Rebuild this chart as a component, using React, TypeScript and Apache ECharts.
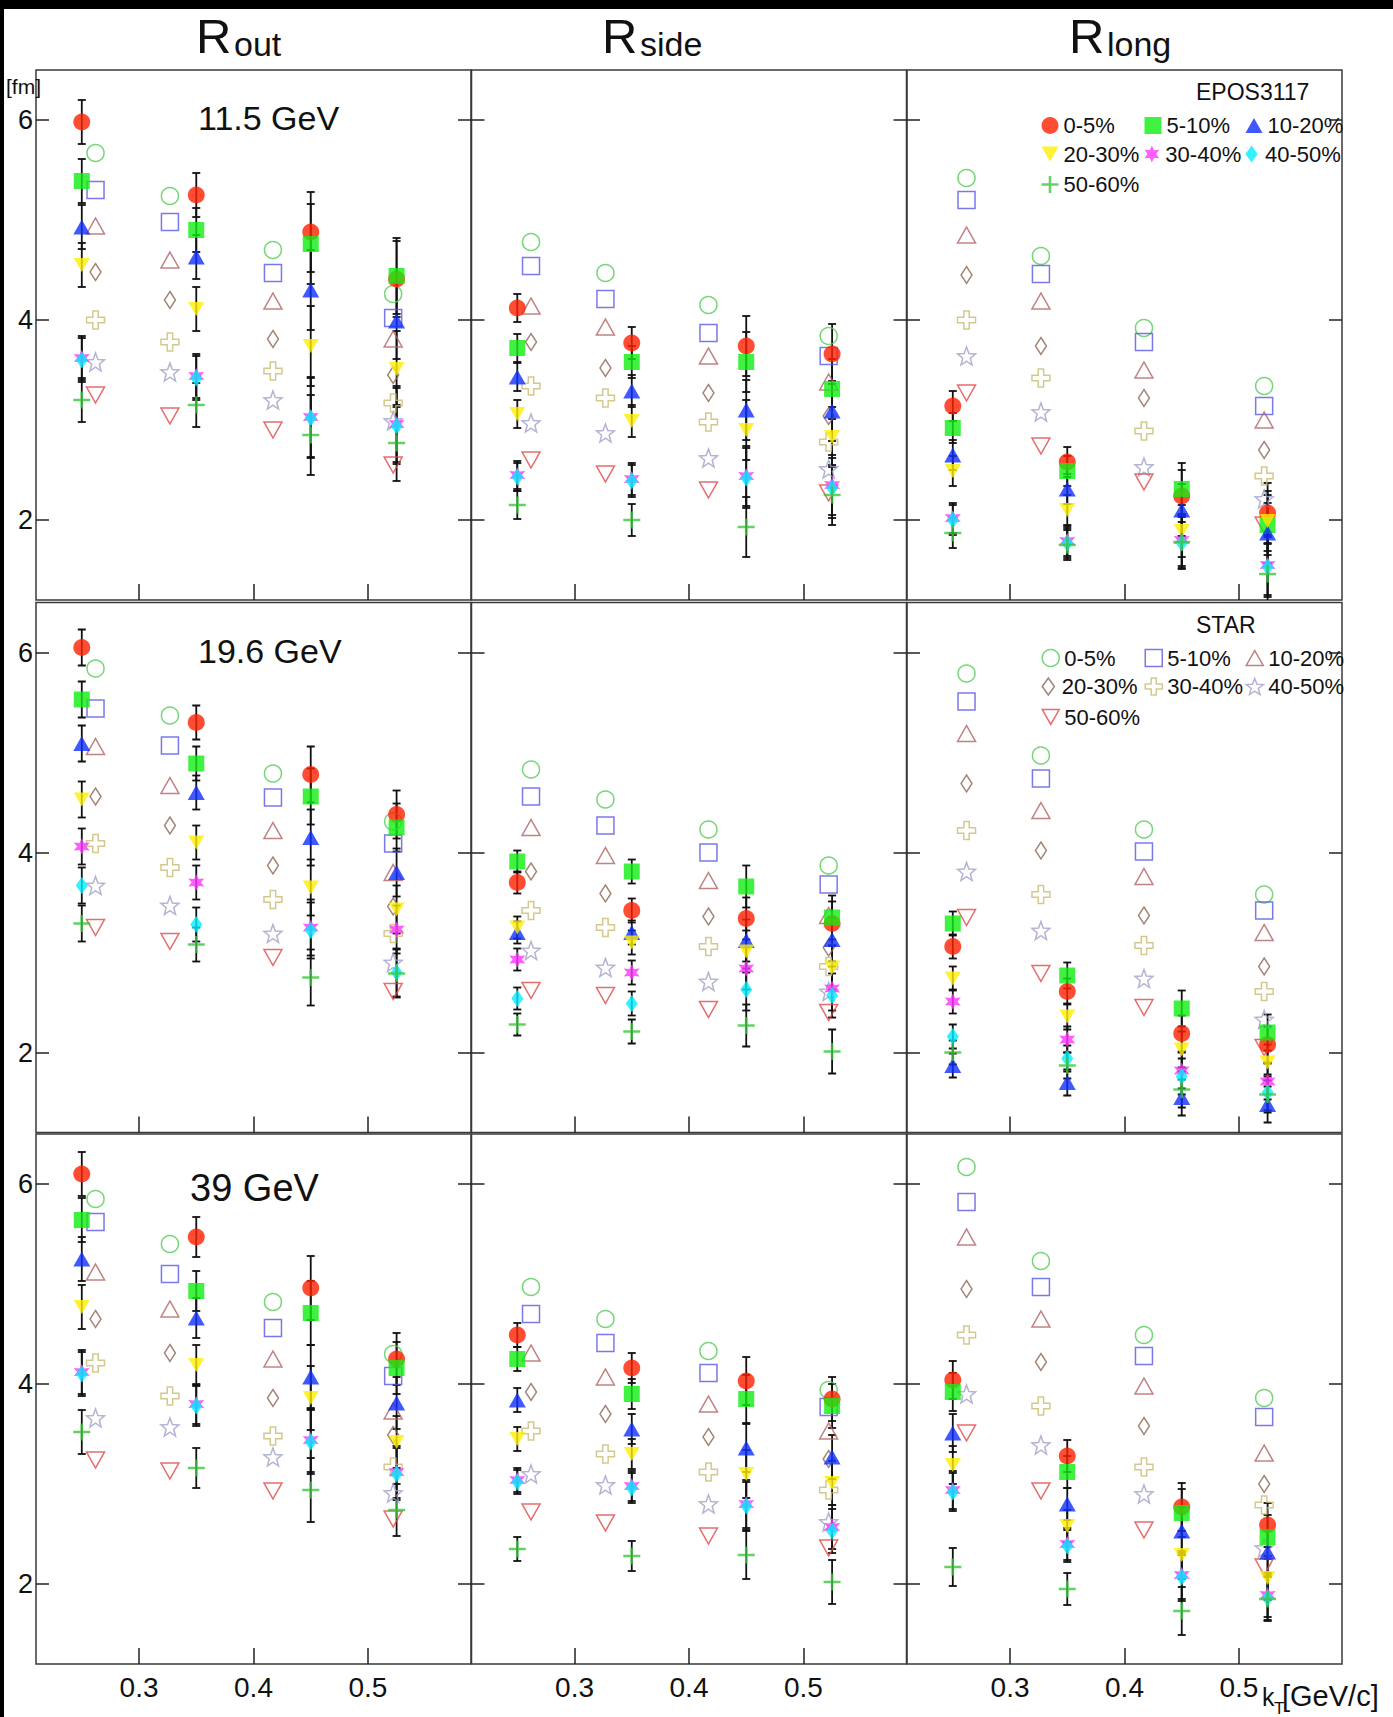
import React, { useEffect, useRef } from 'react';
import * as echarts from 'echarts';

const FONT = '"Liberation Sans", Arial, Helvetica, sans-serif';

// Centrality classes, shared by the model (EPOS3117) and the data (STAR)
const CENTRALITIES = ['0-5%', '5-10%', '10-20%', '20-30%', '30-40%', '40-50%', '50-60%'];
const ENERGY_LABELS = ['11.5 GeV', '19.6 GeV', '39 GeV'];
const RADIUS_SUBSCRIPTS = ['out', 'side', 'long'];

// Pair transverse momentum of each kT bin [GeV/c]
const KT_EPOS = [0.25, 0.35, 0.45, 0.525];
const KT_STAR = [0.262, 0.327, 0.417, 0.522];

const X_TICKS = [0.3, 0.4, 0.5];
const Y_TICKS = [2, 4, 6];

// HBT radii [fm]; one row per centrality class, one column per kT bin
const EPOS_ROUT_115 = [
  [5.98, 5.25, 4.88, 4.41],
  [5.39, 4.9, 4.76, 4.44],
  [4.93, 4.63, 4.3, 3.99],
  [4.55, 4.11, 3.74, 3.51],
  [3.62, 3.44, 3.03, 2.96],
  [3.6, 3.42, 3.02, 2.94],
  [3.2, 3.15, 2.85, 2.77],
];
const STAR_ROUT_115 = [
  [5.67, 5.24, 4.7, 4.26],
  [5.3, 4.98, 4.47, 4.02],
  [4.94, 4.6, 4.19, 3.81],
  [4.48, 4.2, 3.81, 3.45],
  [4.0, 3.78, 3.49, 3.17],
  [3.58, 3.48, 3.2, 2.99],
  [3.25, 3.04, 2.9, 2.55],
];
const ERR_ROUT_115 = [0.22, 0.22, 0.4, 0.38];

const EPOS_RSIDE_115 = [
  [4.12, 3.77, 3.74, 3.66],
  [3.72, 3.58, 3.58, 3.31],
  [3.43, 3.29, 3.1, 3.09],
  [3.06, 2.99, 2.9, 2.83],
  [2.45, 2.41, 2.44, 2.35],
  [2.43, 2.39, 2.42, 2.32],
  [2.15, 2.0, 1.93, 2.25],
];
const STAR_RSIDE_115 = [
  [4.78, 4.47, 4.15, 3.84],
  [4.54, 4.21, 3.87, 3.64],
  [4.14, 3.93, 3.64, 3.38],
  [3.78, 3.52, 3.27, 3.04],
  [3.34, 3.22, 2.98, 2.78],
  [2.97, 2.87, 2.62, 2.51],
  [2.6, 2.46, 2.3, 2.27],
];
const ERR_RSIDE_115 = [0.14, 0.16, 0.3, 0.3];

const EPOS_RLONG_115 = [
  [3.14, 2.58, 2.24, 2.07],
  [2.92, 2.49, 2.31, 1.95],
  [2.65, 2.31, 2.1, 1.87],
  [2.49, 2.1, 1.89, 1.99],
  [2.02, 1.79, 1.8, 1.55],
  [2.0, 1.77, 1.77, 1.53],
  [1.87, 1.75, 1.78, 1.46],
];
const STAR_RLONG_115 = [
  [5.42, 4.64, 3.92, 3.34],
  [5.2, 4.46, 3.78, 3.14],
  [4.85, 4.19, 3.5, 3.0],
  [4.45, 3.74, 3.22, 2.7],
  [4.0, 3.42, 2.89, 2.44],
  [3.64, 3.08, 2.53, 2.21],
  [3.27, 2.74, 2.38, 1.95],
];
const ERR_RLONG_115 = [0.15, 0.15, 0.26, 0.3];

const EPOS_ROUT_196 = [
  [6.05, 5.3, 4.78, 4.38],
  [5.53, 4.89, 4.56, 4.25],
  [5.09, 4.6, 4.15, 3.8],
  [4.53, 4.1, 3.65, 3.43],
  [4.06, 3.7, 3.25, 3.23],
  [3.67, 3.28, 3.22, 2.8],
  [3.29, 3.08, 2.75, 2.79],
];
const STAR_ROUT_196 = [
  [5.84, 5.37, 4.79, 4.31],
  [5.44, 5.07, 4.55, 4.09],
  [5.06, 4.67, 4.22, 3.8],
  [4.56, 4.27, 3.87, 3.46],
  [4.09, 3.85, 3.53, 3.19],
  [3.67, 3.47, 3.19, 2.9],
  [3.25, 3.11, 2.95, 2.61],
];
const ERR_ROUT_196 = [0.18, 0.17, 0.28, 0.24];

const EPOS_RSIDE_196 = [
  [3.7, 3.42, 3.34, 3.29],
  [3.91, 3.81, 3.66, 3.35],
  [3.2, 3.2, 3.12, 3.13],
  [3.25, 3.1, 3.01, 2.85],
  [2.93, 2.8, 2.84, 2.64],
  [2.54, 2.49, 2.63, 2.57],
  [2.28, 2.21, 2.27, 2.01],
];
const STAR_RSIDE_196 = [
  [4.83, 4.53, 4.23, 3.87],
  [4.56, 4.27, 4.0, 3.68],
  [4.25, 3.97, 3.72, 3.37],
  [3.81, 3.59, 3.36, 3.05],
  [3.42, 3.25, 3.06, 2.86],
  [3.02, 2.85, 2.71, 2.61],
  [2.62, 2.57, 2.43, 2.4],
];
const ERR_RSIDE_196 = [0.11, 0.12, 0.21, 0.22];

const EPOS_RLONG_196 = [
  [3.06, 2.61, 2.19, 2.08],
  [3.29, 2.77, 2.44, 2.2],
  [1.87, 1.7, 1.55, 1.48],
  [2.74, 2.36, 2.03, 1.9],
  [2.51, 2.13, 1.82, 1.71],
  [2.16, 1.94, 1.76, 1.6],
  [2.0, 1.87, 1.63, 1.58],
];
const STAR_RLONG_196 = [
  [5.79, 4.97, 4.23, 3.58],
  [5.51, 4.74, 4.01, 3.42],
  [5.19, 4.42, 3.76, 3.2],
  [4.69, 4.02, 3.37, 2.86],
  [4.22, 3.58, 3.07, 2.61],
  [3.81, 3.22, 2.74, 2.33],
  [3.35, 2.79, 2.45, 2.05],
];
const ERR_RLONG_196 = [0.12, 0.13, 0.18, 0.18];

const EPOS_ROUT_39 = [
  [6.1, 5.47, 4.96, 4.25],
  [5.64, 4.93, 4.71, 4.16],
  [5.25, 4.66, 4.07, 3.81],
  [4.77, 4.19, 3.86, 3.42],
  [4.12, 3.8, 3.44, 3.12],
  [4.1, 3.78, 3.42, 3.1],
  [3.52, 3.16, 2.94, 2.74],
];
const STAR_ROUT_39 = [
  [5.85, 5.4, 4.82, 4.3],
  [5.62, 5.1, 4.56, 4.08],
  [5.12, 4.75, 4.25, 3.73],
  [4.65, 4.31, 3.86, 3.49],
  [4.21, 3.88, 3.48, 3.17],
  [3.66, 3.57, 3.27, 2.91],
  [3.24, 3.13, 2.93, 2.65],
];
const ERR_ROUT_39 = [0.22, 0.2, 0.32, 0.26];

const EPOS_RSIDE_39 = [
  [4.49, 4.16, 4.03, 3.85],
  [4.25, 3.9, 3.85, 3.78],
  [3.84, 3.55, 3.36, 3.27],
  [3.45, 3.3, 3.1, 3.01],
  [3.04, 2.98, 2.8, 2.57],
  [3.02, 2.96, 2.78, 2.53],
  [2.35, 2.28, 2.29, 2.02],
];
const STAR_RSIDE_39 = [
  [4.97, 4.65, 4.33, 3.94],
  [4.7, 4.41, 4.11, 3.77],
  [4.31, 4.07, 3.8, 3.53],
  [3.92, 3.7, 3.47, 3.25],
  [3.53, 3.3, 3.12, 2.94],
  [3.1, 2.99, 2.8, 2.62],
  [2.72, 2.61, 2.48, 2.36],
];
const ERR_RSIDE_39 = [0.12, 0.15, 0.24, 0.22];

const EPOS_RLONG_39 = [
  [4.04, 3.28, 2.77, 2.59],
  [3.92, 3.12, 2.71, 2.47],
  [3.51, 2.8, 2.53, 2.32],
  [3.19, 2.58, 2.29, 2.06],
  [2.94, 2.4, 2.09, 1.89],
  [2.92, 2.38, 2.07, 1.86],
  [2.17, 1.95, 1.73, 1.85],
];
const STAR_RLONG_39 = [
  [6.17, 5.23, 4.49, 3.86],
  [5.82, 4.97, 4.28, 3.67],
  [5.47, 4.65, 3.98, 3.31],
  [4.95, 4.22, 3.58, 3.0],
  [4.49, 3.78, 3.17, 2.79],
  [3.9, 3.39, 2.9, 2.36],
  [3.51, 2.93, 2.54, 2.17],
];
const ERR_RLONG_39 = [0.19, 0.16, 0.24, 0.22];

// Panels in reading order: rows are beam energies, columns are Rout / Rside / Rlong
const PANELS: [number[][], number[][], number[]][] = [
  [EPOS_ROUT_115, STAR_ROUT_115, ERR_ROUT_115],
  [EPOS_RSIDE_115, STAR_RSIDE_115, ERR_RSIDE_115],
  [EPOS_RLONG_115, STAR_RLONG_115, ERR_RLONG_115],
  [EPOS_ROUT_196, STAR_ROUT_196, ERR_ROUT_196],
  [EPOS_RSIDE_196, STAR_RSIDE_196, ERR_RSIDE_196],
  [EPOS_RLONG_196, STAR_RLONG_196, ERR_RLONG_196],
  [EPOS_ROUT_39, STAR_ROUT_39, ERR_ROUT_39],
  [EPOS_RSIDE_39, STAR_RSIDE_39, ERR_RSIDE_39],
  [EPOS_RLONG_39, STAR_RLONG_39, ERR_RLONG_39],
];

// ---- layout ----
const COL_LEFT = [36, 471.5, 907];
const ROW_TOP = [70, 602.5, 1134];
const GRID_W = 435;
const GRID_H = 530;
const X_MIN = 0.21;
const X_MAX = 0.59;
const Y_MIN = 1.2;
const Y_MAX = 6.5;

// ---- marker shapes ----
function starPath(points: number, rOut: number, rIn: number): string {
  const pts: string[] = [];
  for (let k = 0; k < 2 * points; k++) {
    const r = k % 2 === 0 ? rOut : rIn;
    const a = -Math.PI / 2 + (k * Math.PI) / points;
    pts.push(`${(rOut + r * Math.cos(a)).toFixed(2)},${(rOut + r * Math.sin(a)).toFixed(2)}`);
  }
  return 'path://M' + pts.join('L') + 'Z';
}
const TRI_UP = 'path://M8,0L16,14L0,14Z';
const TRI_DOWN = 'path://M0,0L16,0L8,14Z';
const DIAMOND = 'path://M5,0L10,7L5,14L0,7Z';
const PLUS = 'path://M8.5,0H11.5V8.5H20V11.5H11.5V20H8.5V11.5H0V8.5H8.5Z';
const CROSS_OPEN = 'path://M7,0H13V7H20V13H13V20H7V13H0V7H7Z';
const STAR6 = starPath(6, 10, 5);
const STAR5 = starPath(5, 10, 4.2);

const EPOS_MARKERS = [
  { symbol: 'circle', size: 17, color: '#ff2000' },
  { symbol: 'rect', size: 16, color: '#11ee11' },
  { symbol: TRI_UP, size: [17, 15], color: '#1030ff' },
  { symbol: TRI_DOWN, size: [16, 14], color: '#ffee00' },
  { symbol: STAR6, size: 16, color: '#ff33ff' },
  { symbol: DIAMOND, size: [12, 17], color: '#00eeff' },
  { symbol: PLUS, size: 17, color: '#3cc63c' },
];
const STAR_MARKERS = [
  { symbol: 'circle', size: 17, color: '#55cc55' },
  { symbol: 'rect', size: 17, color: '#5757e6' },
  { symbol: TRI_UP, size: [18, 16], color: '#b06464' },
  { symbol: DIAMOND, size: [11, 17], color: '#8c6450' },
  { symbol: CROSS_OPEN, size: 18, color: '#c8bc72' },
  { symbol: STAR5, size: 18, color: '#a0a0c8' },
  { symbol: TRI_DOWN, size: [18, 16], color: '#e04848' },
];

const LEGEND_COL_X = [1050, 1153, 1254];
const LEGEND_ROW_DY = [55.5, 84, 114.5];
const LEGEND_ICON = 17;

function renderErrorBar(_params: any, api: any) {
  const x = api.value(0);
  const y = api.value(1);
  const e = api.value(2);
  const hi = api.coord([x, y + e]);
  const lo = api.coord([x, y - e]);
  const cap = 4;
  const st = () => ({ stroke: '#111', lineWidth: 1.8 });
  return {
    type: 'group',
    children: [
      { type: 'line', shape: { x1: hi[0], y1: hi[1], x2: lo[0], y2: lo[1] }, style: st() },
      { type: 'line', shape: { x1: hi[0] - cap, y1: hi[1], x2: hi[0] + cap, y2: hi[1] }, style: st() },
      { type: 'line', shape: { x1: lo[0] - cap, y1: lo[1], x2: lo[0] + cap, y2: lo[1] }, style: st() },
    ],
  };
}

function buildOption() {
  const tickLine = { color: '#222', width: 1.5 };
  const grids: any[] = [];
  const xAxes: any[] = [];
  const yAxes: any[] = [];
  const series: any[] = [];

  PANELS.forEach(([epos, star, err], p) => {
    const r = Math.floor(p / 3);
    const c = p % 3;
    grids.push({
      left: COL_LEFT[c],
      top: ROW_TOP[r],
      width: GRID_W,
      height: GRID_H,
      show: true,
      borderColor: '#3a3a3a',
      borderWidth: 1.5,
      backgroundColor: 'transparent',
    });
    xAxes.push({
      type: 'value',
      gridIndex: p,
      min: X_MIN,
      max: X_MAX,
      axisLine: { show: false },
      splitLine: { show: false },
      axisTick: { show: true, inside: true, length: 16, customValues: X_TICKS, lineStyle: tickLine },
      axisLabel: {
        show: r === 2,
        customValues: X_TICKS,
        formatter: (v: number) => v.toFixed(1),
        fontSize: 28,
        fontFamily: FONT,
        color: '#111',
        margin: 9,
      },
    });
    for (const side of ['left', 'right']) {
      yAxes.push({
        type: 'value',
        gridIndex: p,
        position: side,
        min: Y_MIN,
        max: Y_MAX,
        axisLine: { show: false },
        splitLine: { show: false },
        axisTick: { show: true, inside: true, length: 13, customValues: Y_TICKS, lineStyle: tickLine },
        axisLabel: {
          show: side === 'left' && c === 0,
          customValues: Y_TICKS,
          formatter: (v: number) => String(v),
          fontSize: 27,
          fontFamily: FONT,
          color: '#111',
          margin: 3,
        },
      });
    }

    series.push({
      type: 'custom',
      name: 'EPOS errors',
      xAxisIndex: p,
      yAxisIndex: 2 * p,
      z: 2,
      clip: true,
      silent: true,
      dimensions: ['x', 'y', 'e'],
      encode: { x: 0, y: 1 },
      data: epos.flatMap((row) => row.map((v, j) => [KT_EPOS[j], v, err[j]])),
      renderItem: renderErrorBar,
    });

    star.forEach((row, i) => {
      const m = STAR_MARKERS[i];
      series.push({
        type: 'scatter',
        name: `STAR|${CENTRALITIES[i]}`,
        xAxisIndex: p,
        yAxisIndex: 2 * p,
        z: 3,
        symbol: m.symbol,
        symbolSize: m.size,
        itemStyle: { color: 'rgba(0,0,0,0)', borderColor: m.color, borderWidth: 1.5 },
        emphasis: { disabled: true },
        data: row.map((v, j) => [KT_STAR[j], v]),
      });
    });
    epos.forEach((row, i) => {
      const m = EPOS_MARKERS[i];
      series.push({
        type: 'scatter',
        name: `EPOS|${CENTRALITIES[i]}`,
        xAxisIndex: p,
        yAxisIndex: 2 * p,
        z: 4,
        symbol: m.symbol,
        symbolSize: m.size,
        itemStyle: { color: m.color, borderWidth: 0 },
        emphasis: { disabled: true },
        data: row.map((v, j) => [KT_EPOS[j], v]),
      });
    });
  });

  const legends: any[] = [];
  CENTRALITIES.forEach((cent, k) => {
    const col = k % 3;
    const row = Math.floor(k / 3);
    (['EPOS', 'STAR'] as const).forEach((src, s) => {
      const cx = LEGEND_COL_X[col];
      const cy = ROW_TOP[s] + LEGEND_ROW_DY[row];
      legends.push({
        data: [`${src}|${cent}`],
        left: cx - LEGEND_ICON / 2,
        top: cy - 11,
        padding: 0,
        itemWidth: LEGEND_ICON,
        itemHeight: LEGEND_ICON,
        itemGap: 0,
        selectedMode: false,
        formatter: (n: string) => n.split('|')[1],
        itemStyle: { borderWidth: src === 'STAR' ? 1.5 : 0 },
        textStyle: { fontSize: 22, lineHeight: 22, fontFamily: FONT, color: '#111' },
      });
    });
  });

  const txt = (text: string, x: number, y: number, size: number, align = 'left') => ({
    type: 'text',
    x,
    y,
    z: 50,
    silent: true,
    style: { text, fontSize: size, fontFamily: FONT, fill: '#111', textAlign: align, textVerticalAlign: 'middle' },
  });

  const TITLE_X = [196, 602, 1069];
  const ENERGY_POS = [
    [198, 118, 34],
    [198, 651, 34],
    [190, 1188, 38],
  ];
  const elements: any[] = [
    { type: 'rect', shape: { x: 0, y: 0, width: 1393, height: 9 }, style: { fill: '#000' }, z: 60, silent: true },
    { type: 'rect', shape: { x: 0, y: 0, width: 4, height: 1717 }, style: { fill: '#000' }, z: 60, silent: true },
    txt('[fm]', 6, 86, 21),
    txt('k', 1262, 1697, 25),
    txt('T', 1274, 1708, 17),
    txt('[GeV/c]', 1282, 1696, 29),
    txt('EPOS3117', 1196, ROW_TOP[0] + 22, 23),
    txt('STAR', 1196, ROW_TOP[1] + 22, 23),
  ];
  RADIUS_SUBSCRIPTS.forEach((sub, c) => {
    elements.push(txt('R', TITLE_X[c], 36, 49));
    elements.push(txt(sub, TITLE_X[c] + 38, 44, 34));
  });
  ENERGY_LABELS.forEach((label, r) => {
    const [x, y, s] = ENERGY_POS[r];
    elements.push(txt(label, x, y, s));
  });

  return {
    animation: false,
    backgroundColor: '#ffffff',
    grid: grids,
    xAxis: xAxes,
    yAxis: yAxes,
    legend: legends,
    series,
    graphic: { elements },
  };
}

export default function App() {
  const ref = useRef<HTMLDivElement>(null);
  useEffect(() => {
    document.body.style.margin = '0';
    if (!ref.current) return;
    const chart = echarts.init(ref.current, undefined, { renderer: 'svg' });
    chart.setOption(buildOption() as any);
    return () => chart.dispose();
  }, []);
  return <div ref={ref} style={{ width: 1393, height: 1717, background: '#fff' }} />;
}
